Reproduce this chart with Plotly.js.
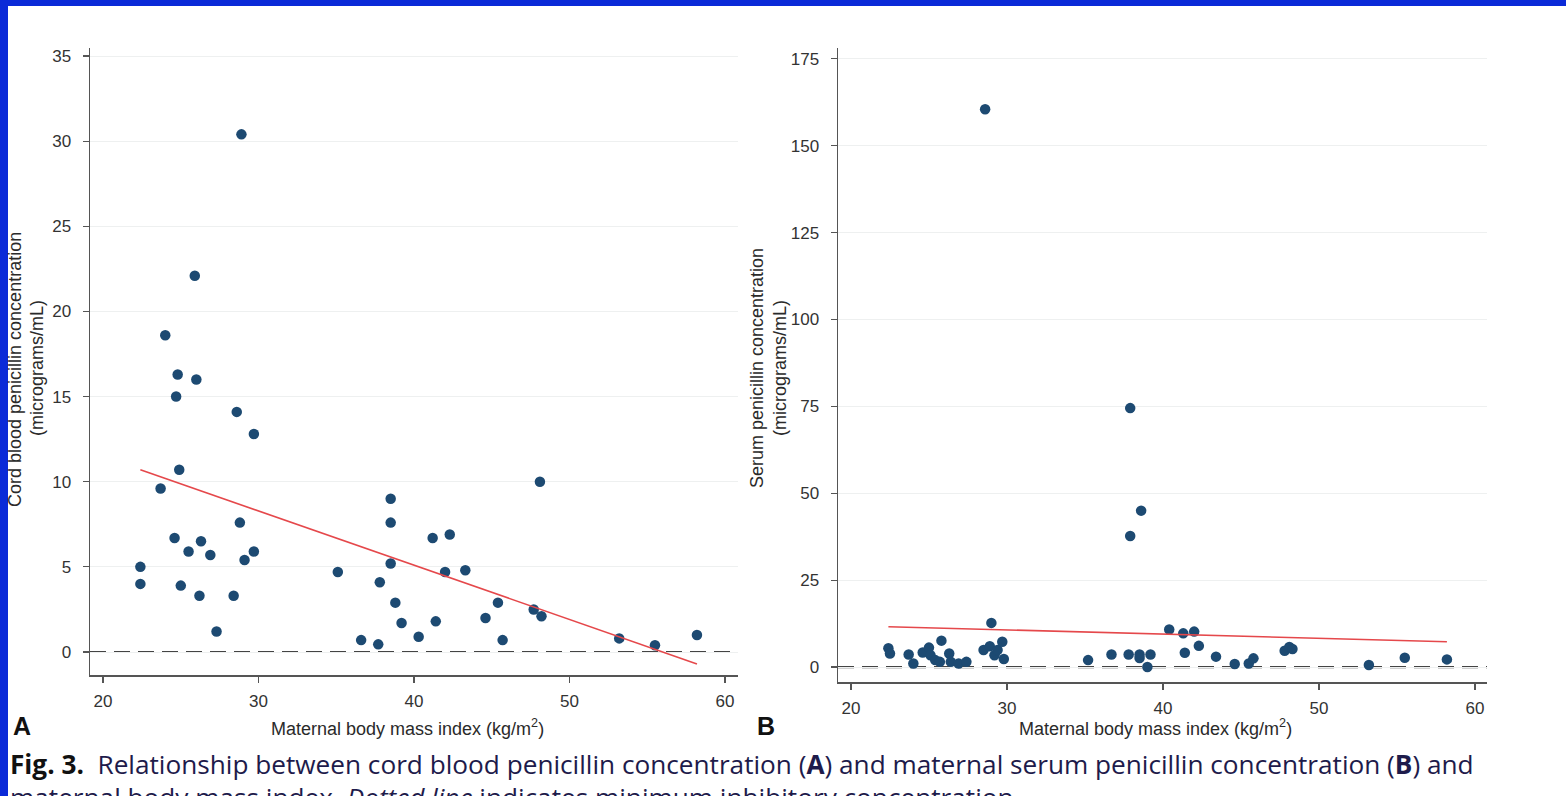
<!DOCTYPE html>
<html>
<head>
<meta charset="utf-8">
<script src="https://cdn.plot.ly/plotly-3.0.1.min.js"></script>
<style>
html,body{margin:0;padding:0;background:#fff;overflow:hidden;}
#chart{width:1566px;height:796px;}
</style>
</head>
<body>
<div id="chart"></div>
<script>
// Panel A: cord blood penicillin vs maternal BMI
const bmiA  = [22.4,22.4,23.7,24.0,24.6,24.7,24.8,24.9,25.0,25.5,25.9,26.0,26.2,26.3,26.9,27.3,28.4,28.6,28.8,28.9,29.1,29.7,29.7,
               35.1,36.6,37.7,37.8,38.5,38.5,38.5,38.8,39.2,40.3,41.2,41.4,42.0,42.3,43.3,44.6,45.4,45.7,48.1,47.7,48.2,53.2,55.5,58.2];
const cordA = [4.0,5.0,9.6,18.6,6.7,15.0,16.3,10.7,3.9,5.9,22.1,16.0,3.3,6.5,5.7,1.2,3.3,14.1,7.6,30.4,5.4,12.8,5.9,
               4.7,0.7,0.45,4.1,9.0,7.6,5.2,2.9,1.7,0.9,6.7,1.8,4.7,6.9,4.8,2.0,2.9,0.7,10.0,2.5,2.1,0.8,0.4,1.0];
// Panel B: maternal serum penicillin vs maternal BMI
const bmiB   = [22.4,22.5,23.7,24.0,24.6,25.0,25.1,25.4,25.7,25.8,26.3,26.4,26.9,27.4,28.5,28.6,28.9,29.0,29.2,29.4,29.7,29.8,
                35.2,36.7,37.8,37.9,37.9,38.5,38.5,38.6,39.0,39.2,40.4,41.3,41.4,42.0,42.3,43.4,44.6,45.5,45.8,47.8,48.1,48.3,53.2,55.5,58.2];
const serumB = [5.4,3.9,3.6,1.0,4.2,5.6,3.4,2.0,1.5,7.6,3.9,1.5,1.0,1.5,4.9,160.5,6.0,12.7,3.4,4.9,7.3,2.3,
                2.0,3.6,3.6,74.5,37.7,3.6,2.6,45.0,0.0,3.6,10.8,9.7,4.1,10.2,6.1,3.0,0.9,1.0,2.5,4.7,5.8,5.2,0.6,2.7,2.2];
// Fitted regression lines (endpoints)
const fitAX = [22.4, 58.2], fitAY = [10.7, -0.7];
const fitBX = [22.4, 58.2], fitBY = [11.6, 7.3];
// Minimum inhibitory concentration reference level
const micLevel = 0;
const xTicks = [20,30,40,50,60];
const yTicksA = [0,5,10,15,20,25,30,35];
const yTicksB = [0,25,50,75,100,125,150,175];

const W = 1566, H = 796;
const px = v => v / W, py = v => 1 - v / H;

const dotColor = '#1d4a72';
const redColor = '#e5484b';
const tickFont = {family:'Liberation Sans, Arial, sans-serif', size:17, color:'#333'};

const baseAxis = {
  showline:true, linecolor:'#555', linewidth:1.5,
  ticks:'outside', ticklen:6, tickwidth:1.2, tickcolor:'#555',
  tickfont:tickFont, zeroline:false, fixedrange:true
};

const traces = [
  {x:bmiA, y:cordA, type:'scatter', mode:'markers', xaxis:'x', yaxis:'y',
   marker:{color:dotColor, size:10.5}, hoverinfo:'skip'},
  {x:fitAX, y:fitAY, type:'scatter', mode:'lines', xaxis:'x', yaxis:'y',
   line:{color:redColor, width:1.6}, hoverinfo:'skip'},
  {x:bmiB, y:serumB, type:'scatter', mode:'markers', xaxis:'x2', yaxis:'y2',
   marker:{color:dotColor, size:10.5}, hoverinfo:'skip'},
  {x:fitBX, y:fitBY, type:'scatter', mode:'lines', xaxis:'x2', yaxis:'y2',
   line:{color:redColor, width:1.6}, hoverinfo:'skip'}
];

const titleFont = {family:'Liberation Sans, Arial, sans-serif', size:18, color:'#2a2a2a'};
const capFont = {family:'Open Sans, Noto Sans, sans-serif', size:26.2, color:'#1e1b4b'};

const layout = {
  width:W, height:H, margin:{l:0,r:0,t:0,b:0},
  paper_bgcolor:'#fff', plot_bgcolor:'#fff', showlegend:false,
  xaxis: Object.assign({}, baseAxis, {domain:[px(90), px(738)], range:[19.16,60.84], tickvals:xTicks, showgrid:false, anchor:'y', ticklabelstandoff:4}),
  yaxis: Object.assign({}, baseAxis, {domain:[py(675), py(48)], range:[-1.35,35.47], tickvals:yTicksA, showgrid:true, gridcolor:'#eef0f0', gridwidth:1, anchor:'x', ticklabelstandoff:8}),
  xaxis2: Object.assign({}, baseAxis, {domain:[px(838), px(1487)], range:[19.17,60.77], tickvals:xTicks, showgrid:false, anchor:'y2', ticklabelstandoff:4}),
  yaxis2: Object.assign({}, baseAxis, {domain:[py(682), py(48)], range:[-4.3,178.1], tickvals:yTicksB, showgrid:true, gridcolor:'#eef0f0', gridwidth:1, anchor:'x2', ticklabelstandoff:8}),
  shapes:[
    {type:'line', xref:'x domain', yref:'y', x0:0, x1:1, y0:micLevel, y1:micLevel,
     line:{color:'#444', width:2.2, dash:'16px,8px'}, layer:'below'},
    {type:'line', xref:'x2 domain', yref:'y2', x0:0, x1:1, y0:micLevel, y1:micLevel,
     line:{color:'#444', width:2.2, dash:'16px,8px'}, layer:'below'},
    {type:'rect', xref:'paper', yref:'paper', x0:0, x1:px(8), y0:0, y1:1, fillcolor:'#0b2ad8', line:{width:0}, layer:'above'},
    {type:'rect', xref:'paper', yref:'paper', x0:0, x1:1, y0:py(6), y1:1, fillcolor:'#0b2ad8', line:{width:0}, layer:'above'}
  ],
  annotations:[
    {xref:'paper', yref:'paper', x:px(407), y:py(727), text:'Maternal body mass index (kg/m<sup>2</sup>)', showarrow:false, font:titleFont, xanchor:'center', yanchor:'middle'},
    {xref:'paper', yref:'paper', x:px(1155), y:py(727), text:'Maternal body mass index (kg/m<sup>2</sup>)', showarrow:false, font:titleFont, xanchor:'center', yanchor:'middle'},
    {xref:'paper', yref:'paper', x:px(15), y:py(370), text:'Cord blood penicillin concentration', textangle:-90, showarrow:false, font:titleFont, xanchor:'center', yanchor:'middle'},
    {xref:'paper', yref:'paper', x:px(37), y:py(368), text:'(micrograms/mL)', textangle:-90, showarrow:false, font:titleFont, xanchor:'center', yanchor:'middle'},
    {xref:'paper', yref:'paper', x:px(757), y:py(368), text:'Serum penicillin concentration', textangle:-90, showarrow:false, font:titleFont, xanchor:'center', yanchor:'middle'},
    {xref:'paper', yref:'paper', x:px(780), y:py(368), text:'(micrograms/mL)', textangle:-90, showarrow:false, font:titleFont, xanchor:'center', yanchor:'middle'},
    {xref:'paper', yref:'paper', x:px(22), y:py(726), text:'<b>A</b>', showarrow:false, font:{family:'Liberation Sans, Arial, sans-serif', size:25, color:'#111'}, xanchor:'center', yanchor:'middle'},
    {xref:'paper', yref:'paper', x:px(766), y:py(726), text:'<b>B</b>', showarrow:false, font:{family:'Liberation Sans, Arial, sans-serif', size:25, color:'#111'}, xanchor:'center', yanchor:'middle'},
    {xref:'paper', yref:'paper', x:px(8), y:py(764), text:'<b style="color:#111">Fig. 3.</b>  Relationship between cord blood penicillin concentration (<b>A</b>) and maternal serum penicillin concentration (<b>B</b>) and', showarrow:false, font:capFont, xanchor:'left', yanchor:'middle'},
    {xref:'paper', yref:'paper', x:px(8), y:py(797), text:'maternal body mass index. <i>Dotted line</i> indicates minimum inhibitory concentration.', showarrow:false, font:capFont, xanchor:'left', yanchor:'middle'}
  ]
};

Plotly.newPlot('chart', traces, layout, {staticPlot:true, displayModeBar:false});
</script>
</body>
</html>
